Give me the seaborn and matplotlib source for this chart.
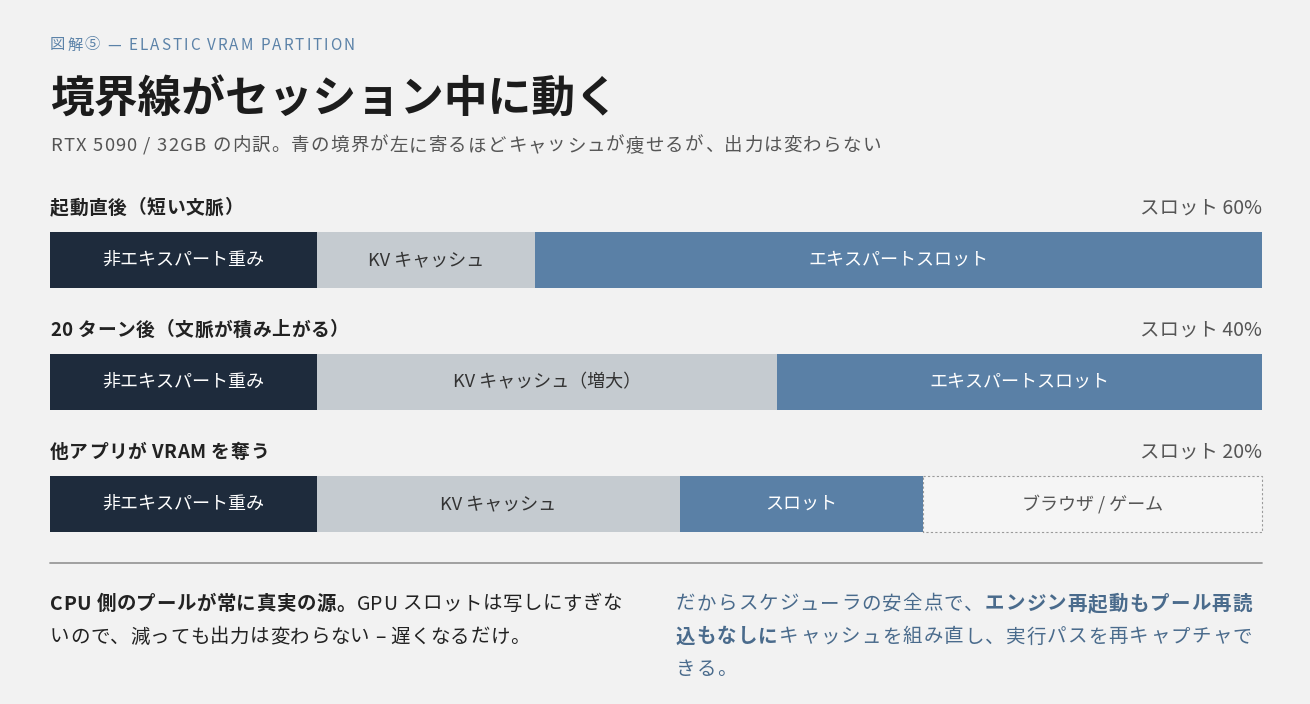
import numpy as np
import pandas as pd
import seaborn as sns
import matplotlib.pyplot as plt

# --- data ---
stages = ["起動直後（短い文脈）", "20 ターン後（文脈が積み上がる）", "他アプリが VRAM を奪う"]
slot_notes = ["スロット 60%", "スロット 40%", "スロット 20%"]
weight_pct = [22, 22, 22]
kv_pct = [18, 38, 30]
slot_pct = [60, 40, 20]
other_pct = [0, 0, 28]
weight_labels = ["非エキスパート重み", "非エキスパート重み", "非エキスパート重み"]
kv_labels = ["KV キャッシュ", "KV キャッシュ（増大）", "KV キャッシュ"]
slot_labels = ["エキスパートスロット", "エキスパートスロット", "スロット"]
other_labels = ["", "", "ブラウザ / ゲーム"]

W, H = 1310, 704
BG = "#f2f2f2"
C_DARK = "#1e2b3c"
C_KV = "#c5cbd0"
C_SLOT = "#5a80a6"
C_OTHER = "#f5f5f5"
JP = ["Noto Sans CJK JP", "DejaVu Sans"]

sns.set_theme(style="white")
plt.rcParams["font.family"] = JP

df = pd.DataFrame({
    "stage": stages,
    "weights": weight_pct,
    "kv": kv_pct,
    "slot": slot_pct,
    "other": other_pct,
})
df["c0"] = df["weights"]
df["c1"] = df["c0"] + df["kv"]
df["c2"] = df["c1"] + df["slot"]
df["c3"] = df["c2"] + df["other"]

fig = plt.figure(figsize=(W / 100, H / 100), dpi=100, facecolor=BG)

# bar area: x 50..1262 px, rows from y=232 to y=532 px
row_gap = 122
bar_h = 56 / row_gap
ax = fig.add_axes([50 / W, (H - 532) / H, 1212 / W, 300 / H])
ax.set_facecolor(BG)

# browser / game layer (only rows that have it)
others = df[df["other"] > 0]
sns.barplot(data=others, x="c3", y="stage", order=stages, color=C_OTHER,
            saturation=1, width=bar_h, errorbar=None, linewidth=0, ax=ax)
for p, (_, r) in zip(list(ax.patches), others.iterrows()):
    p.set_x(r["c2"])
    p.set_width(r["other"])
    p.set_edgecolor("#9a9a9a")
    p.set_linestyle((0, (2, 2)))
    p.set_linewidth(0.8)
    p.set_zorder(1)
    p.set_clip_on(False)

for col, color in [("c2", C_SLOT), ("c1", C_KV), ("c0", C_DARK)]:
    n_before = len(ax.patches)
    sns.barplot(data=df, x=col, y="stage", order=stages, color=color,
                saturation=1, width=bar_h, errorbar=None, linewidth=0, ax=ax)
    for p in ax.patches[n_before:]:
        p.set_zorder(2)

ax.set_xlim(0, 100)
ax.set_ylim(2 + bar_h / 2, -bar_h / 2)
ax.axis("off")

# labels inside segments
for i, r in df.iterrows():
    segs = [
        (0, r["c0"], weight_labels[i], "white"),
        (r["c0"], r["c1"], kv_labels[i], "#333333"),
        (r["c1"], r["c2"], slot_labels[i], "white"),
        (r["c2"], r["c3"], other_labels[i], "#555555"),
    ]
    for a, b, lab, tc in segs:
        if lab and b > a:
            ax.text((a + b) / 2, i, lab, ha="center", va="center",
                    fontsize=13, color=tc, zorder=5)

renderer = fig.canvas.get_renderer()


def rich(x_px, y_px, parts, size, color, gap=0.0, space_w=None):
    x = x_px
    for txt, wt in parts:
        for ch in txt:
            if ch == " ":
                x += (space_w if space_w is not None else size * 0.3) + gap
                continue
            t = fig.text(x / W, 1 - y_px / H, ch, fontsize=size, fontweight=wt,
                         color=color, ha="left", va="center")
            x += t.get_window_extent(renderer).width + gap
    return x


# row headers
for i, (name, note) in enumerate(zip(stages, slot_notes)):
    y = 208 + i * row_gap
    rich(50, y, [(name, "bold")], 13.5, "#222222", gap=0.6)
    fig.text(1262 / W, 1 - y / H, note, fontsize=14, color="#555555",
             ha="right", va="center")

# header
rich(50, 45, [("図解⑤ — ELASTIC VRAM PARTITION", "normal")], 11, "#5b82a8",
     gap=1.9, space_w=4)
fig.text(50 / W, 1 - 100 / H, "境界線がセッション中に動く", fontsize=31.5,
         fontweight="bold", color="#1c1c1c", ha="left", va="center")
rich(50, 146, [("RTX 5090 / 32GB の内訳。青の境界が左に寄るほどキャッシュが痩せるが、出力は変わらない", "normal")],
     13.3, "#555555", gap=1.2)

# separator
fig.add_artist(plt.Line2D([50 / W, 1262 / W], [1 - 563 / H, 1 - 563 / H],
                          color="#9a9a9a", linewidth=1.3))

# footer notes
rich(50, 604, [("CPU 側のプールが常に真実の源。", "bold"),
               ("GPU スロットは写しにすぎな", "normal")], 14, "#222222", gap=0.5)
rich(50, 637, [("いので、減っても出力は変わらない – 遅くなるだけ。", "normal")],
     14, "#222222", gap=0.5)
rich(676, 604, [("だからスケジューラの安全点で、", "normal"),
                ("エンジン再起動もプール再読", "bold")], 14, "#4a6b8c", gap=1.1)
rich(676, 637, [("込もなしに", "bold"),
                ("キャッシュを組み直し、実行パスを再キャプチャで", "normal")],
     14, "#4a6b8c", gap=1.1)
rich(676, 670, [("きる。", "normal")], 14, "#4a6b8c", gap=1.1)

fig.savefig("out.png", dpi=100, facecolor=BG)
